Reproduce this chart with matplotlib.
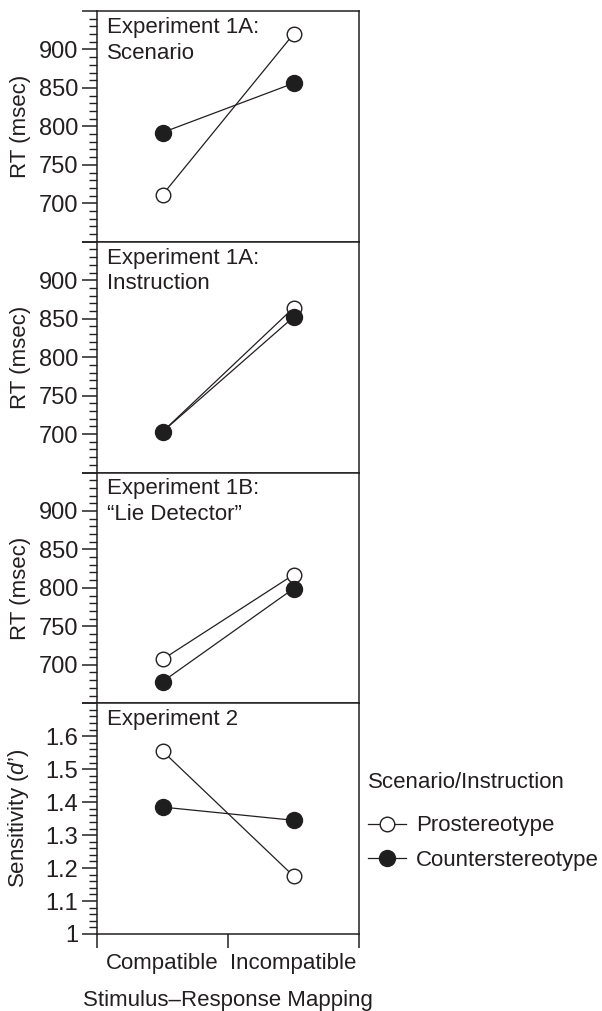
import numpy as np
import matplotlib
matplotlib.use("Agg")
import matplotlib.pyplot as plt
from matplotlib.ticker import MultipleLocator, FixedLocator, NullFormatter
from matplotlib.lines import Line2D

plt.rcParams['font.family'] = ['Liberation Sans', 'DejaVu Sans']
plt.rcParams['mathtext.fontset'] = 'custom'
plt.rcParams['mathtext.it'] = 'Liberation Sans:italic'
plt.rcParams['mathtext.rm'] = 'Liberation Sans'
plt.rcParams['font.size'] = 16

ink = '#231f20'

# data
categories = ['Compatible', 'Incompatible']
panel_titles = ['Experiment 1A:\nScenario', 'Experiment 1A:\nInstruction',
                'Experiment 1B:\n\u201cLie Detector\u201d', 'Experiment 2']
pro_1a_scenario = [711, 920]
counter_1a_scenario = [792, 856]
pro_1a_instruction = [703, 864]
counter_1a_instruction = [703, 852]
pro_1b = [707, 817]
counter_1b = [678, 799]
pro_exp2 = [1.555, 1.176]
counter_exp2 = [1.385, 1.345]

pro_series = [pro_1a_scenario, pro_1a_instruction, pro_1b, pro_exp2]
counter_series = [counter_1a_scenario, counter_1a_instruction, counter_1b, counter_exp2]
ylabels = ['RT (msec)'] * 3 + ['Sensitivity ($\\mathit{d}$\u2019)']

W, H = 602, 1011
fig = plt.figure(figsize=(W / 100, H / 100), dpi=100)

x = np.arange(len(categories)) + 0.5
top_px = 11
panel_h = 230.75
axes = []
for i in range(4):
    t = top_px + i * panel_h
    ax = fig.add_axes([97 / W, 1 - (t + panel_h) / H, 262 / W, panel_h / H])
    axes.append(ax)

    ax.plot(x, pro_series[i], '-o', color=ink, lw=0.9, ms=10.5,
            mfc='white', mec=ink, mew=1.0, zorder=3)
    ax.plot(x, counter_series[i], '-o', color=ink, lw=0.9, ms=11.5,
            mfc='#1e1e1e', mec=ink, mew=1.0, zorder=4)

    ax.set_xlim(0, 2)
    if i < 3:
        ax.set_ylim(650, 950)
        ax.yaxis.set_major_locator(MultipleLocator(50))
        ax.yaxis.set_minor_locator(MultipleLocator(10))
        ax.yaxis.set_major_formatter(lambda v, p: '' if v in (650, 950) else f'{v:.0f}')
    else:
        ax.set_ylim(1.0, 1.7)
        ax.yaxis.set_major_locator(MultipleLocator(0.1))
        ax.yaxis.set_minor_locator(MultipleLocator(0.02))
        ax.yaxis.set_major_formatter(
            lambda v, p: '' if v > 1.65 else ('1' if abs(v - 1) < 1e-6 else f'{v:.1f}'))

    ax.tick_params(axis='y', which='major', length=11, width=1.1, color=ink,
                   labelcolor=ink, labelsize=17, pad=2.5)
    ax.tick_params(axis='y', which='minor', length=5.5, width=1.0, color=ink)

    ax.xaxis.set_major_locator(FixedLocator([0, 1, 2]))
    ax.xaxis.set_major_formatter(NullFormatter())
    ax.xaxis.set_minor_locator(FixedLocator(x))
    if i < 3:
        ax.tick_params(axis='x', which='both', bottom=False, labelbottom=False)
    else:
        ax.xaxis.set_minor_formatter(lambda v, p: categories[int(v)])
        ax.tick_params(axis='x', which='major', length=10, width=1.1, color=ink)
        ax.tick_params(axis='x', which='minor', length=0, pad=14,
                       labelsize=16, labelcolor=ink)
        ax.set_xlabel('Stimulus\u2013Response Mapping', fontsize=16,
                      color=ink, labelpad=11)

    for s in ax.spines.values():
        s.set_linewidth(1.1)
        s.set_color(ink)

    ax.text(0.038, 0.975, panel_titles[i], transform=ax.transAxes,
            ha='left', va='top', fontsize=16, color=ink, linespacing=1.3)
    ax.set_ylabel(ylabels[i], fontsize=16, color=ink)
    ax.yaxis.set_label_coords(-0.25, 0.5)

# legend: title as its own text, entries below it
fig.text(368 / W, 1 - 783 / H, 'Scenario/Instruction', ha='left', va='center',
         fontsize=16, color=ink)
handles = [Line2D([], [], color=ink, lw=0.9, marker='o', ms=10.5,
                  mfc='white', mec=ink, mew=1.0),
           Line2D([], [], color=ink, lw=0.9, marker='o', ms=11.5,
                  mfc='#1e1e1e', mec=ink, mew=1.0)]
leg = fig.legend(handles, ['Prostereotype', 'Counterstereotype'],
                 loc='center left', bbox_to_anchor=(368 / W, 1 - 843 / H),
                 frameon=False, fontsize=16,
                 handlelength=1.7, handletextpad=0.45, labelspacing=0.6,
                 borderpad=0, borderaxespad=0)
for t in leg.get_texts():
    t.set_color(ink)

fig.savefig('out.png', dpi=100, facecolor='white')
